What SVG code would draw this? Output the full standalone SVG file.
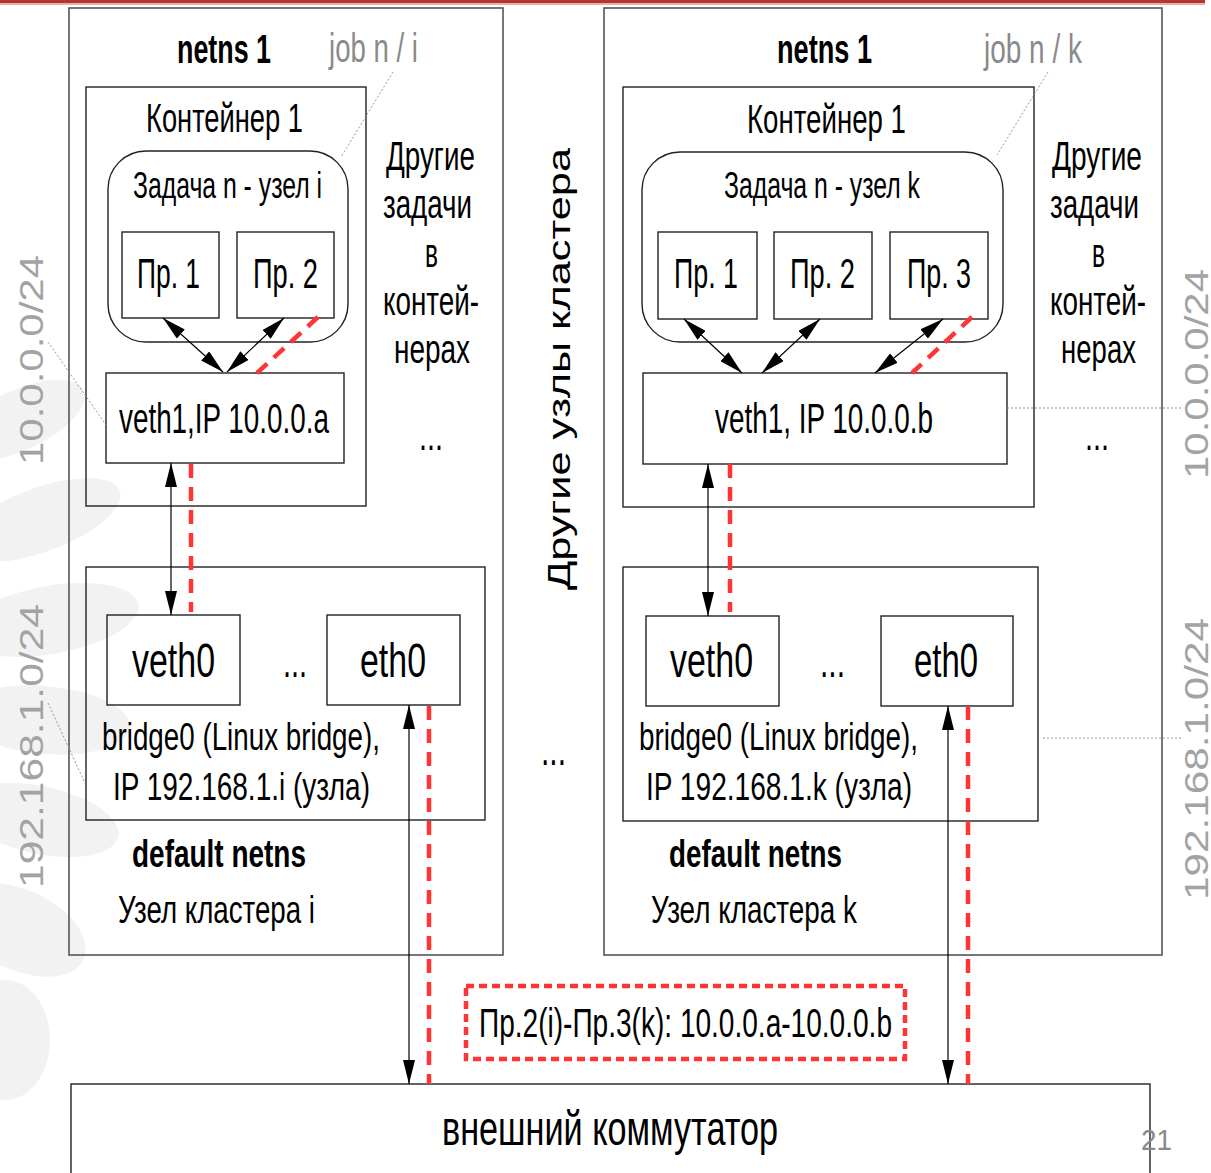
<svg xmlns="http://www.w3.org/2000/svg" width="1211" height="1173" viewBox="0 0 1211 1173">
<defs>
<style>
.t{font-family:"Liberation Sans Narrow","Liberation Sans",Arial,sans-serif;fill:#000}
.b{font-weight:bold}
.g{fill:#8a8a8a}
.rot{font-family:"Liberation Sans",Arial,sans-serif;fill:#a3a3a3}
.box{fill:none;stroke:#222;stroke-width:1.4}
.outer{fill:none;stroke:#555;stroke-width:1.6}
.arr{stroke:#000;stroke-width:1.2;fill:none;marker-start:url(#ah);marker-end:url(#ah)}
.red{stroke:#ff3535;stroke-width:4.5;fill:none;stroke-dasharray:14 9}
.dot{stroke:#999;stroke-width:1;fill:none;stroke-dasharray:2 2}
.wm{fill:#f2f2f2}
</style>
<marker id="ah" markerUnits="userSpaceOnUse" markerWidth="24" markerHeight="12" refX="24" refY="6" orient="auto-start-reverse">
<path d="M0,0 L24,6 L0,12 z" fill="#000"/>
</marker>
</defs>
<rect width="1211" height="1173" fill="#fff"/>
<g id="watermark">
<ellipse class="wm" cx="20" cy="420" rx="70" ry="30" transform="rotate(-25 20 420)"/>
<ellipse class="wm" cx="40" cy="520" rx="85" ry="32" transform="rotate(-20 40 520)"/>
<ellipse class="wm" cx="50" cy="620" rx="90" ry="34" transform="rotate(-10 50 620)"/>
<ellipse class="wm" cx="45" cy="720" rx="85" ry="34" transform="rotate(5 45 720)"/>
<ellipse class="wm" cx="40" cy="820" rx="80" ry="34" transform="rotate(12 40 820)"/>
<ellipse class="wm" cx="20" cy="930" rx="70" ry="40" transform="rotate(25 20 930)"/>
<ellipse class="wm" cx="5" cy="1040" rx="45" ry="60"/>
</g>
<rect x="0" y="0" width="1205" height="3" fill="#b8352d"/>
<rect x="0" y="3" width="1205" height="2" fill="#e6b0ac"/>

<g id="node-i">
<rect class="outer" x="69" y="8" width="434" height="947"/>
<text class="t b" x="177" y="63" font-size="40" textLength="94" lengthAdjust="spacingAndGlyphs">netns 1</text>
<text class="t g" x="329" y="62" font-size="41" textLength="89" lengthAdjust="spacingAndGlyphs">job n / i</text>
<text class="t" x="386" y="170" font-size="41" textLength="89" lengthAdjust="spacingAndGlyphs">Другие</text>
<text class="t" x="383" y="218" font-size="41" textLength="89" lengthAdjust="spacingAndGlyphs">задачи</text>
<text class="t" x="425" y="267" font-size="41" textLength="13" lengthAdjust="spacingAndGlyphs">в</text>
<text class="t" x="383" y="315" font-size="41" textLength="96" lengthAdjust="spacingAndGlyphs">контей-</text>
<text class="t" x="394" y="363" font-size="41" textLength="76" lengthAdjust="spacingAndGlyphs">нерах</text>
<text class="t" x="419" y="450" font-size="41" textLength="24" lengthAdjust="spacingAndGlyphs">...</text>
<text class="t b" x="132" y="867" font-size="39" textLength="174" lengthAdjust="spacingAndGlyphs">default netns</text>
<text class="t" x="118" y="923" font-size="39" textLength="197" lengthAdjust="spacingAndGlyphs">Узел кластера i</text>
</g>
<g id="container-i">
<rect class="box" x="86" y="87" width="280" height="419"/>
<text class="t" x="146" y="132" font-size="41" textLength="157" lengthAdjust="spacingAndGlyphs">Контейнер 1</text>
</g>
<g id="task-i">
<rect class="box" x="108" y="151" width="240" height="191" rx="38"/>
<text class="t" x="133" y="198" font-size="36" textLength="189" lengthAdjust="spacingAndGlyphs">Задача n - узел i</text>
</g>
<g id="pr1-i">
<rect class="box" x="122" y="232" width="97" height="86"/>
<text class="t" x="137" y="288" font-size="42" textLength="63" lengthAdjust="spacingAndGlyphs">Пр. 1</text>
</g>
<g id="pr2-i">
<rect class="box" x="237" y="232" width="97" height="86"/>
<text class="t" x="253" y="288" font-size="42" textLength="65" lengthAdjust="spacingAndGlyphs">Пр. 2</text>
</g>
<g id="veth1-i">
<rect class="box" x="106" y="373" width="238" height="90"/>
<text class="t" x="119" y="433" font-size="42" textLength="210" lengthAdjust="spacingAndGlyphs">veth1,IP 10.0.0.a</text>
</g>
<g id="bridge-i">
<rect class="box" x="86" y="567" width="399" height="253"/>
<text class="t" x="283" y="677" font-size="44" textLength="24" lengthAdjust="spacingAndGlyphs">...</text>
<text class="t" x="102" y="750" font-size="39" textLength="278" lengthAdjust="spacingAndGlyphs">bridge0 (Linux bridge),</text>
<text class="t" x="113" y="800" font-size="39" textLength="257" lengthAdjust="spacingAndGlyphs">IP 192.168.1.i (узла)</text>
</g>
<g id="veth0-i">
<rect class="box" x="107" y="615" width="133" height="90"/>
<text class="t" x="132" y="677" font-size="48" textLength="83" lengthAdjust="spacingAndGlyphs">veth0</text>
</g>
<g id="eth0-i">
<rect class="box" x="327" y="615" width="133" height="90"/>
<text class="t" x="360" y="677" font-size="48" textLength="66" lengthAdjust="spacingAndGlyphs">eth0</text>
</g>

<g id="node-k">
<rect class="outer" x="604" y="8" width="558" height="947"/>
<text class="t b" x="777" y="63" font-size="40" textLength="95" lengthAdjust="spacingAndGlyphs">netns 1</text>
<text class="t g" x="984" y="63" font-size="41" textLength="98" lengthAdjust="spacingAndGlyphs">job n / k</text>
<text class="t" x="1052" y="170" font-size="41" textLength="90" lengthAdjust="spacingAndGlyphs">Другие</text>
<text class="t" x="1050" y="218" font-size="41" textLength="89" lengthAdjust="spacingAndGlyphs">задачи</text>
<text class="t" x="1092" y="267" font-size="41" textLength="13" lengthAdjust="spacingAndGlyphs">в</text>
<text class="t" x="1050" y="315" font-size="41" textLength="96" lengthAdjust="spacingAndGlyphs">контей-</text>
<text class="t" x="1061" y="363" font-size="41" textLength="75" lengthAdjust="spacingAndGlyphs">нерах</text>
<text class="t" x="1085" y="450" font-size="41" textLength="24" lengthAdjust="spacingAndGlyphs">...</text>
<text class="t b" x="669" y="867" font-size="39" textLength="173" lengthAdjust="spacingAndGlyphs">default netns</text>
<text class="t" x="651" y="923" font-size="39" textLength="206" lengthAdjust="spacingAndGlyphs">Узел кластера k</text>
</g>
<g id="container-k">
<rect class="box" x="623" y="87" width="411" height="420"/>
<text class="t" x="747" y="133" font-size="41" textLength="159" lengthAdjust="spacingAndGlyphs">Контейнер 1</text>
</g>
<g id="task-k">
<rect class="box" x="642" y="152" width="361" height="190" rx="38"/>
<text class="t" x="724" y="198" font-size="36" textLength="196" lengthAdjust="spacingAndGlyphs">Задача n - узел k</text>
</g>
<g id="pr1-k">
<rect class="box" x="658" y="232" width="99" height="87"/>
<text class="t" x="674" y="288" font-size="42" textLength="64" lengthAdjust="spacingAndGlyphs">Пр. 1</text>
</g>
<g id="pr2-k">
<rect class="box" x="774" y="232" width="98" height="87"/>
<text class="t" x="790" y="288" font-size="42" textLength="65" lengthAdjust="spacingAndGlyphs">Пр. 2</text>
</g>
<g id="pr3-k">
<rect class="box" x="890" y="232" width="98" height="87"/>
<text class="t" x="907" y="288" font-size="42" textLength="64" lengthAdjust="spacingAndGlyphs">Пр. 3</text>
</g>
<g id="veth1-k">
<rect class="box" x="643" y="373" width="364" height="91"/>
<text class="t" x="715" y="433" font-size="42" textLength="218" lengthAdjust="spacingAndGlyphs">veth1, IP 10.0.0.b</text>
</g>
<g id="bridge-k">
<rect class="box" x="623" y="567" width="415" height="254"/>
<text class="t" x="820" y="677" font-size="44" textLength="25" lengthAdjust="spacingAndGlyphs">...</text>
<text class="t" x="639" y="750" font-size="39" textLength="279" lengthAdjust="spacingAndGlyphs">bridge0 (Linux bridge),</text>
<text class="t" x="646" y="800" font-size="39" textLength="266" lengthAdjust="spacingAndGlyphs">IP 192.168.1.k (узла)</text>
</g>
<g id="veth0-k">
<rect class="box" x="646" y="616" width="133" height="90"/>
<text class="t" x="670" y="677" font-size="48" textLength="83" lengthAdjust="spacingAndGlyphs">veth0</text>
</g>
<g id="eth0-k">
<rect class="box" x="881" y="616" width="132" height="90"/>
<text class="t" x="914" y="677" font-size="48" textLength="64" lengthAdjust="spacingAndGlyphs">eth0</text>
</g>

<g id="middle">
<text class="rot" font-size="32" fill="#000" style="fill:#000" text-anchor="middle" textLength="442" lengthAdjust="spacingAndGlyphs" transform="translate(570,369) rotate(-90)">Другие узлы кластера</text>
<text class="t" x="541" y="765" font-size="44" textLength="25" lengthAdjust="spacingAndGlyphs">...</text>
</g>

<g id="switch">
<rect class="box" x="71" y="1084" width="1079" height="120"/>
<text class="t" x="442" y="1145" font-size="48" textLength="336" lengthAdjust="spacingAndGlyphs">внешний коммутатор</text>
</g>

<g id="path-label">
<rect x="466" y="986" width="439" height="73" fill="none" stroke="#ff3535" stroke-width="4.5" stroke-dasharray="8 5"/>
<text class="t" x="479" y="1037" font-size="40" textLength="413" lengthAdjust="spacingAndGlyphs">Пр.2(i)-Пр.3(k): 10.0.0.a-10.0.0.b</text>
</g>

<g id="subnet-labels">
<text class="rot" font-size="42" text-anchor="middle" textLength="210" lengthAdjust="spacingAndGlyphs" transform="translate(43,360) rotate(-90) scale(1,0.8)">10.0.0.0/24</text>
<text class="rot" font-size="42" text-anchor="middle" textLength="284" lengthAdjust="spacingAndGlyphs" transform="translate(43,746) rotate(-90) scale(1,0.8)">192.168.1.0/24</text>
<text class="rot" font-size="42" text-anchor="middle" textLength="210" lengthAdjust="spacingAndGlyphs" transform="translate(1208,374) rotate(-90) scale(1,0.8)">10.0.0.0/24</text>
<text class="rot" font-size="42" text-anchor="middle" textLength="282" lengthAdjust="spacingAndGlyphs" transform="translate(1208,759) rotate(-90) scale(1,0.8)">192.168.1.0/24</text>
</g>

<text class="t g" x="1141" y="1150" font-size="30" textLength="31" lengthAdjust="spacingAndGlyphs">21</text>

<g id="connectors">
<line class="dot" x1="393" y1="72" x2="341" y2="157"/>
<line class="dot" x1="1048" y1="72" x2="997" y2="155"/>
<line class="dot" x1="48" y1="342" x2="106" y2="425"/>
<line class="dot" x1="48" y1="703" x2="85" y2="783"/>
<line class="dot" x1="1007" y1="408" x2="1181" y2="408"/>
<line class="dot" x1="1043" y1="738" x2="1181" y2="738"/>

<line class="arr" x1="163" y1="318" x2="223" y2="372"/>
<line class="arr" x1="284" y1="318" x2="227" y2="372"/>
<line class="arr" x1="171" y1="463" x2="171" y2="615"/>
<line class="arr" x1="409" y1="705" x2="409" y2="1084"/>
<line class="arr" x1="684" y1="319" x2="742" y2="373"/>
<line class="arr" x1="820" y1="319" x2="762" y2="373"/>
<line class="arr" x1="943" y1="319" x2="875" y2="373"/>
<line class="arr" x1="708" y1="464" x2="708" y2="616"/>
<line class="arr" x1="948" y1="706" x2="948" y2="1084"/>

<line class="red" x1="318" y1="317" x2="257" y2="373"/>
<line class="red" x1="191" y1="464" x2="191" y2="612"/>
<line class="red" x1="429" y1="706" x2="429" y2="1084"/>
<line class="red" x1="972" y1="317" x2="912" y2="373"/>
<line class="red" x1="730" y1="464" x2="730" y2="612"/>
<line class="red" x1="968" y1="706" x2="968" y2="1084"/>
</g>
</svg>
